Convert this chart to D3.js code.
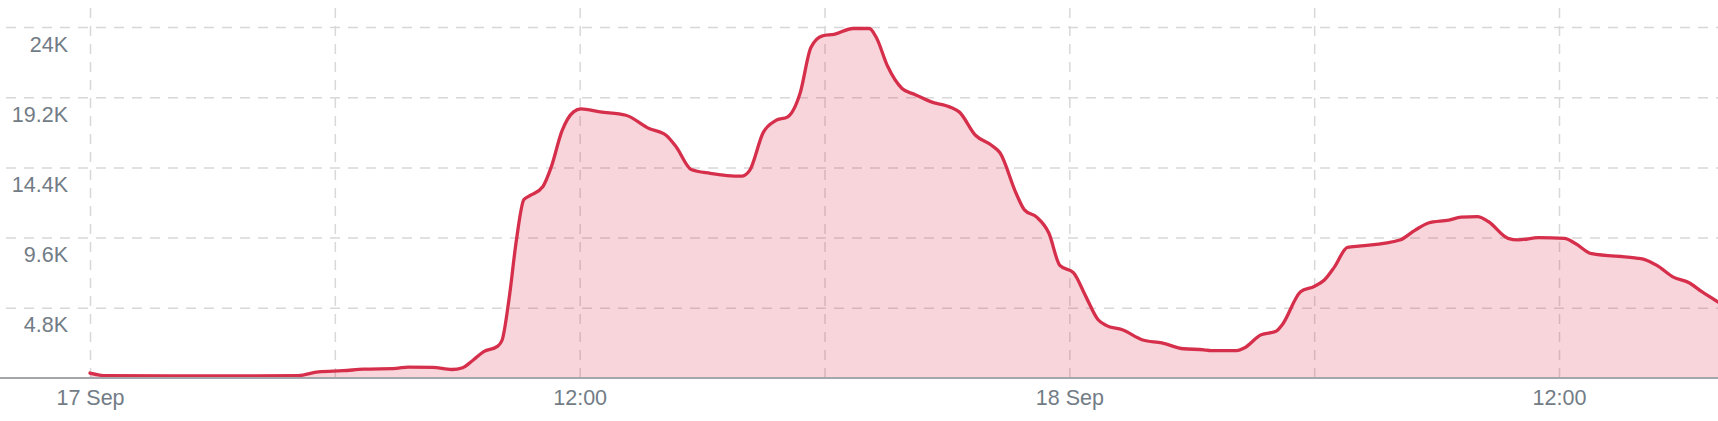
<!DOCTYPE html>
<html>
<head>
<meta charset="utf-8">
<script src="https://cdn.jsdelivr.net/npm/d3@7"></script>
<style>
    body { margin: 0; background: #fff; }
    svg { display: block; font-family: Roboto, 'Noto Sans', sans-serif; }
    .grid line { stroke: #d8d8d8; stroke-width: 1.5; stroke-dasharray: 10, 8; }
    .grid path, .labels path { display: none; }
    .labels text { fill: #727c86; font-size: 21.5px; }
</style>
</head>
<body>
<svg width="1718" height="421"></svg>
<script>
// requests over time
const times = [
    '2023-09-17 00:00', '2023-09-17 00:24', '2023-09-17 02:00', '2023-09-17 04:00',
    '2023-09-17 05:06', '2023-09-17 05:36', '2023-09-17 06:12', '2023-09-17 06:42',
    '2023-09-17 07:30', '2023-09-17 07:48', '2023-09-17 08:24', '2023-09-17 08:52',
    '2023-09-17 09:08', '2023-09-17 09:24', '2023-09-17 09:39', '2023-09-17 09:59',
    '2023-09-17 10:06', '2023-09-17 10:16', '2023-09-17 10:27', '2023-09-17 10:38',
    '2023-09-17 10:48', '2023-09-17 11:06', '2023-09-17 11:18', '2023-09-17 11:34',
    '2023-09-17 11:51', '2023-09-17 12:02', '2023-09-17 12:30', '2023-09-17 13:08',
    '2023-09-17 13:42', '2023-09-17 14:07', '2023-09-17 14:22', '2023-09-17 14:44',
    '2023-09-17 15:12', '2023-09-17 15:58', '2023-09-17 16:10', '2023-09-17 16:30',
    '2023-09-17 16:48', '2023-09-17 17:06', '2023-09-17 17:24', '2023-09-17 17:40',
    '2023-09-17 17:57', '2023-09-17 18:14', '2023-09-17 18:42', '2023-09-17 19:06',
    '2023-09-17 19:16', '2023-09-17 19:33', '2023-09-17 19:54', '2023-09-17 20:12',
    '2023-09-17 20:36', '2023-09-17 21:06', '2023-09-17 21:18', '2023-09-17 21:42',
    '2023-09-17 22:06', '2023-09-17 22:18', '2023-09-17 22:42', '2023-09-17 22:54',
    '2023-09-17 23:12', '2023-09-17 23:30', '2023-09-17 23:46', '2023-09-18 00:06',
    '2023-09-18 00:24', '2023-09-18 00:42', '2023-09-18 00:54', '2023-09-18 01:18',
    '2023-09-18 01:48', '2023-09-18 02:16', '2023-09-18 02:48', '2023-09-18 03:18',
    '2023-09-18 03:28', '2023-09-18 04:06', '2023-09-18 04:17', '2023-09-18 04:42',
    '2023-09-18 05:04', '2023-09-18 05:13', '2023-09-18 05:40', '2023-09-18 06:00',
    '2023-09-18 06:15', '2023-09-18 06:30', '2023-09-18 06:49', '2023-09-18 07:09',
    '2023-09-18 08:06', '2023-09-18 08:28', '2023-09-18 08:48', '2023-09-18 09:18',
    '2023-09-18 09:36', '2023-09-18 10:00', '2023-09-18 10:16', '2023-09-18 10:45',
    '2023-09-18 11:00', '2023-09-18 11:30', '2023-09-18 12:08', '2023-09-18 12:24',
    '2023-09-18 12:48', '2023-09-18 13:54', '2023-09-18 14:06', '2023-09-18 14:24',
    '2023-09-18 14:48', '2023-09-18 15:12', '2023-09-18 15:30', '2023-09-18 15:54'
];
const values = [
    340, 160, 150, 150,
    160, 420, 500, 600,
    660, 750, 730, 580,
    700, 1250, 1800, 2160,
    2600, 5350, 9440, 12200,
    12500, 13100, 14400, 16900,
    18200, 18400, 18200, 17970,
    17060, 16600, 15800, 14260,
    14000, 13800, 14200, 16800,
    17600, 17860, 19450, 22600,
    23400, 23500, 23900, 23900,
    23300, 21300, 19800, 19400,
    18900, 18500, 18200, 16600,
    15900, 15400, 12600, 11500,
    11000, 9900, 7700, 7200,
    5600, 4000, 3600, 3300,
    2600, 2400, 2000, 1930,
    1870, 1870, 2050, 2960,
    3190, 3640, 5900, 6260,
    6700, 7600, 8940, 9030,
    9440, 10100, 10600, 10800,
    11000, 11030, 10700, 9550,
    9440, 9600, 9550, 9200,
    8500, 8200, 8100, 7700,
    6900, 6500, 5900, 5200
];

const yTicks = [4800, 9600, 14400, 19200, 24000];
const yTickLabels = ['4.8K', '9.6K', '14.4K', '19.2K', '24K'];
const xTicks = ['2023-09-17 00:00', '2023-09-17 12:00', '2023-09-18 00:00', '2023-09-18 12:00'];
const xTickLabels = ['17 Sep', '12:00', '18 Sep', '12:00'];

const parse = d3.timeParse('%Y-%m-%d %H:%M');
const data = times.map((t, i) => ({ t: parse(t), v: values[i] }));

const svg = d3.select('svg');
const width = 1718;
const baseY = 378;

const xScale = d3.scaleTime()
    .domain([parse(xTicks[0]), parse(xTicks[3])])
    .range([90, 1559]);

const yScale = d3.scaleLinear()
    .domain([0, 25850])
    .range([baseY, 0]);

// vertical grid lines, every 6 hours
svg.append('g')
    .attr('class', 'grid')
    .attr('transform', `translate(0, ${baseY})`)
    .call(d3.axisBottom(xScale)
        .ticks(d3.timeHour.every(6))
        .tickSize(-baseY)
        .tickFormat('')
    );

// horizontal grid lines
svg.append('g')
    .attr('class', 'grid')
    .attr('transform', 'translate(6, 0)')
    .call(d3.axisRight(yScale)
        .tickValues(yTicks)
        .tickSize(width - 6)
        .tickFormat('')
    );

const area = d3.area()
    .x((d) => xScale(d.t))
    .y0(baseY)
    .y1((d) => yScale(d.v))
    .curve(d3.curveMonotoneX);

const line = d3.line()
    .x((d) => xScale(d.t))
    .y((d) => yScale(d.v))
    .curve(d3.curveMonotoneX);

svg.append('path')
    .datum(data)
    .attr('fill', '#d62f4b')
    .attr('fill-opacity', 0.2)
    .attr('d', area);

svg.append('path')
    .datum(data)
    .attr('fill', 'none')
    .attr('stroke', '#d62f4b')
    .attr('stroke-width', 3.3)
    .attr('stroke-linejoin', 'round')
    .attr('stroke-linecap', 'round')
    .attr('d', line);

// baseline
svg.append('line')
    .attr('x1', 0)
    .attr('x2', width)
    .attr('y1', baseY)
    .attr('y2', baseY)
    .attr('stroke', '#a3a7ab')
    .attr('stroke-width', 2);

// y labels sit just under their grid line
svg.append('g')
    .attr('class', 'labels')
    .attr('transform', 'translate(68, 0)')
    .call(d3.axisLeft(yScale)
        .tickValues(yTicks)
        .tickSize(0)
        .tickPadding(0)
        .tickFormat((d, i) => yTickLabels[i])
    )
    .selectAll('text')
    .attr('dy', null)
    .attr('y', 24);

svg.append('g')
    .attr('class', 'labels')
    .attr('transform', `translate(0, ${baseY})`)
    .call(d3.axisBottom(xScale)
        .tickValues(xTicks.map(parse))
        .tickSize(0)
        .tickPadding(0)
        .tickFormat((d, i) => xTickLabels[i])
    )
    .selectAll('text')
    .attr('dy', null)
    .attr('y', 27);
</script>
</body>
</html>
